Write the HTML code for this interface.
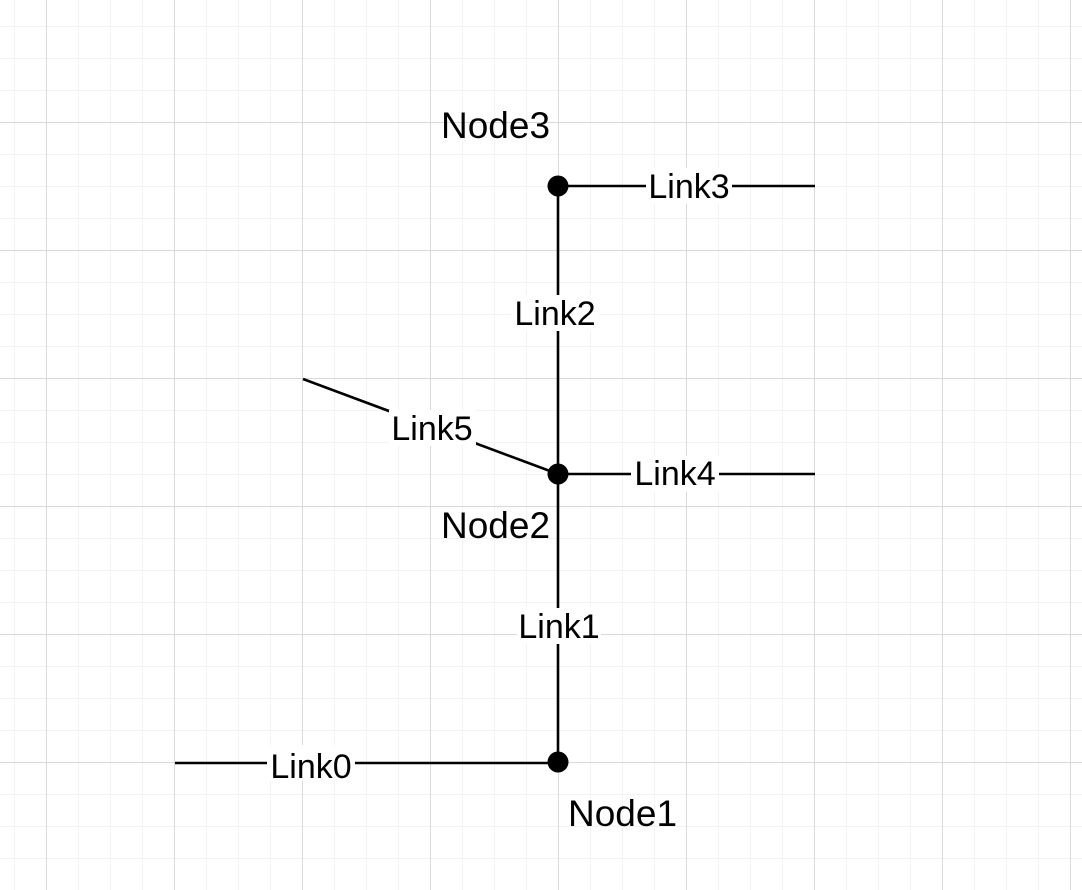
<!DOCTYPE html>
<html><head><meta charset="utf-8"><style>
html,body{margin:0;padding:0;background:#fff;}
svg{display:block;}
text{font-family:"Liberation Sans",Arial,sans-serif;fill:#000;}
</style></head><body>
<svg width="1082" height="890" viewBox="0 0 1082 890" xmlns="http://www.w3.org/2000/svg">
<defs>
<pattern id="minor" x="14" y="26" width="32" height="32" patternUnits="userSpaceOnUse">
<path d="M0 0H32M0 0V32" stroke="#efefef" stroke-width="1.5" fill="none"/>
</pattern>
<pattern id="major" x="46" y="122" width="128" height="128" patternUnits="userSpaceOnUse">
<path d="M0 0H128M0 0V128" stroke="#d0d0d0" stroke-width="1.5" fill="none"/>
</pattern>
</defs>
<rect width="1082" height="890" fill="#fff"/>
<rect width="1082" height="890" fill="url(#minor)"/>
<rect width="1082" height="890" fill="url(#major)"/>
<g stroke="#000" stroke-width="2.6" fill="none">
<line x1="558" y1="186" x2="558" y2="762"/>
<line x1="558" y1="186" x2="815" y2="186"/>
<line x1="558" y1="474" x2="815" y2="474"/>
<line x1="303" y1="379" x2="558" y2="474"/>
<line x1="175" y1="763" x2="558" y2="763"/>
</g>
<circle cx="558" cy="186" r="10.5" fill="#000"/>
<circle cx="558" cy="474" r="10.5" fill="#000"/>
<circle cx="558" cy="762" r="10.5" fill="#000"/>
<g fill="#fff">
<rect x="646" y="168" width="86" height="36"/>
<rect x="511" y="295" width="88" height="36"/>
<rect x="389" y="410" width="87" height="36"/>
<rect x="631" y="456" width="88" height="36"/>
<rect x="517" y="608" width="84" height="36"/>
<rect x="267" y="745" width="88" height="36"/>
</g>
<g font-size="34" text-anchor="middle">
<text x="689" y="198">Link3</text>
<text x="555" y="325">Link2</text>
<text x="432" y="440">Link5</text>
<text x="675" y="485">Link4</text>
<text x="559" y="638">Link1</text>
<text x="311" y="778">Link0</text>
</g>
<g font-size="37">
<text x="441" y="138">Node3</text>
<text x="441" y="538">Node2</text>
<text x="568" y="826">Node1</text>
</g>
</svg>
</body></html>
